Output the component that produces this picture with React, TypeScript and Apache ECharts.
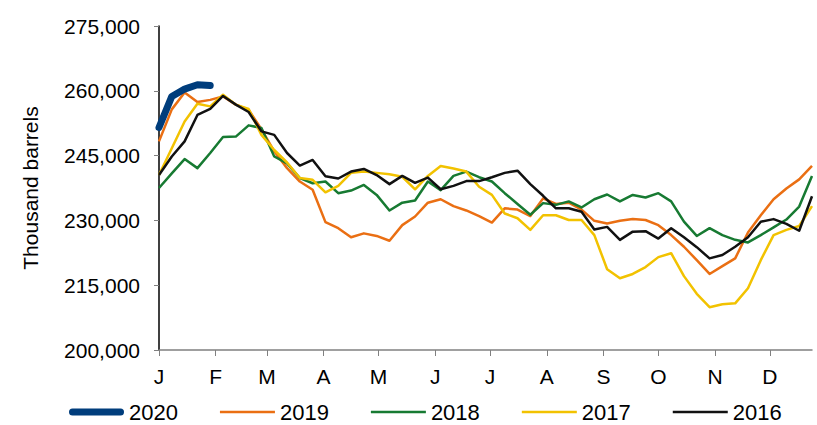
import React, { useEffect, useRef } from "react";
import * as echarts from "echarts";

const monthLabels = ["J", "F", "M", "A", "M", "J", "J", "A", "S", "O", "N", "D"];
const monthStartDays = [0, 31, 59, 90, 120, 151, 181, 212, 243, 273, 304, 334];

const y2020 = [251500, 258700, 260400, 261400, 261200];
const y2019 = [
  248300, 255700, 259600, 257400, 257900, 258700, 256800, 255600, 251100, 246000,
  242100, 239000, 237100, 229600, 228200, 226100, 227000, 226400, 225300, 228900,
  230900, 234100, 234900, 233300, 232300, 231000, 229500, 232800, 232500, 231000,
  235100, 233800, 234100, 232500, 229900, 229300, 229900, 230300, 230100, 228900,
  226600, 223900, 220800, 217600, 219400, 221200, 227200, 231200, 234900, 237400,
  239500, 242600,
];
const y2018 = [
  237500, 240900, 244200, 242100, 245600, 249300, 249400, 252000, 251400, 244800,
  243200, 239800, 238600, 239000, 236300, 236900, 238200, 235900, 232300, 234100,
  234600, 239000, 237000, 240300, 241300, 240000, 239000, 236300, 233800, 231300,
  234000, 233600, 234400, 233000, 234900, 236000, 234400, 235900, 235300, 236300,
  234400, 229700, 226400, 228200, 226600, 225500, 224900, 226600, 228400, 230200,
  233200, 240300,
];
const y2017 = [
  240500, 246700, 252900, 257000, 256400, 259100, 256800, 255800, 249800, 246300,
  243400, 239800, 239400, 236500, 238000, 241000, 241300, 241000, 240700, 240100,
  237200, 240300, 242600, 242000, 241300, 237800, 235900, 231600, 230500, 227800,
  231200, 231200, 230100, 230100, 226600, 218700, 216600, 217600, 219200, 221500,
  222400, 217100, 213000, 209900, 210600, 210800, 214300, 220800, 226600, 227800,
  228700, 233300,
];
const y2016 = [
  240500, 244800, 248300, 254400, 255800, 258800, 256800, 255100, 250600, 249800,
  245600, 242700, 244000, 240200, 239700, 241300, 241900, 240500, 238400, 240300,
  238700, 239900, 237200, 238000, 239100, 239100, 240000, 241000, 241500, 238400,
  235700, 232800, 232800, 232000, 227900, 228500, 225500, 227400, 227500, 225800,
  228200, 226100, 223800, 221200, 222000, 223900, 226100, 229700, 230300, 229200,
  227600, 235600,
];

const seriesNames = ["2020", "2019", "2018", "2017", "2016"];
const seriesColors = ["#003d7c", "#ea6f13", "#177a32", "#f2c200", "#111111"];
const seriesData = [y2020, y2019, y2018, y2017, y2016];

const FONT = "'Liberation Sans', Arial, sans-serif";
const THICK_ICON = "path://M3.5,0h48a3.5,3.5 0 0 1 0,7h-48a3.5,3.5 0 0 1 0,-7z";
const THIN_ICON = "path://M0,0h55v2.5h-55z";

export default function App() {
  const ref = useRef<HTMLDivElement>(null);
  useEffect(() => {
    if (!ref.current) return;
    const chart = echarts.init(ref.current, null, { renderer: "svg" });
    const monthPos = monthStartDays.map((d) => d / 7);
    const series = seriesData.map((arr, si) => ({
      name: seriesNames[si],
      type: "line",
      data: arr.map((v, i) => [i, v]),
      symbol: "none",
      showSymbol: false,
      lineStyle: {
        color: seriesColors[si],
        width: si === 0 ? 7 : 2.5,
        cap: si === 0 ? "round" : "butt",
        join: "round",
      },
      itemStyle: { color: seriesColors[si] },
      z: si === 0 ? 3 : 2,
    }));
    chart.setOption({
      animation: false,
      textStyle: { fontFamily: FONT },
      grid: { left: 159, right: 5, top: 26, bottom: 75, containLabel: false },
      legend: {
        data: seriesNames.map((n, i) => ({
          name: n,
          icon: i === 0 ? THICK_ICON : THIN_ICON,
          itemStyle: { color: seriesColors[i], borderWidth: 0 },
        })),
        left: 64,
        top: 396,
        itemWidth: 55,
        itemHeight: 14,
        itemGap: 42,
        symbolKeepAspect: true,
        textStyle: { fontSize: 22, color: "#000", fontFamily: FONT },
      },
      xAxis: {
        type: "value",
        min: 0,
        max: 51,
        axisLine: { show: true, lineStyle: { color: "#808080", width: 1.5 } },
        axisTick: {
          show: true,
          customValues: monthPos,
          length: 6,
          lineStyle: { color: "#808080", width: 1 },
        },
        axisLabel: {
          customValues: monthPos,
          margin: 16,
          fontSize: 21,
          color: "#000",
          fontFamily: FONT,
          formatter: (v: number) => {
            const idx = monthPos.findIndex((p) => Math.abs(p - v) < 1e-6);
            return idx >= 0 ? monthLabels[idx] : "";
          },
        },
        splitLine: { show: false },
      },
      yAxis: {
        type: "value",
        min: 200000,
        max: 275000,
        interval: 15000,
        name: "Thousand barrels",
        nameLocation: "middle",
        nameGap: 118,
        nameTextStyle: { fontSize: 21, color: "#000", fontFamily: FONT },
        axisLine: { show: true, lineStyle: { color: "#000", width: 1.5 } },
        axisTick: { show: true, length: 5, lineStyle: { color: "#808080" } },
        axisLabel: {
          margin: 19,
          fontSize: 21,
          color: "#000",
          fontFamily: FONT,
          formatter: (v: number) => v.toLocaleString("en-US"),
        },
        splitLine: { show: false },
      },
      series,
    });
    return () => chart.dispose();
  }, []);
  return (
    <div
      ref={ref}
      style={{ position: "absolute", left: 0, top: 0, width: 817, height: 425, background: "#fff" }}
    />
  );
}
